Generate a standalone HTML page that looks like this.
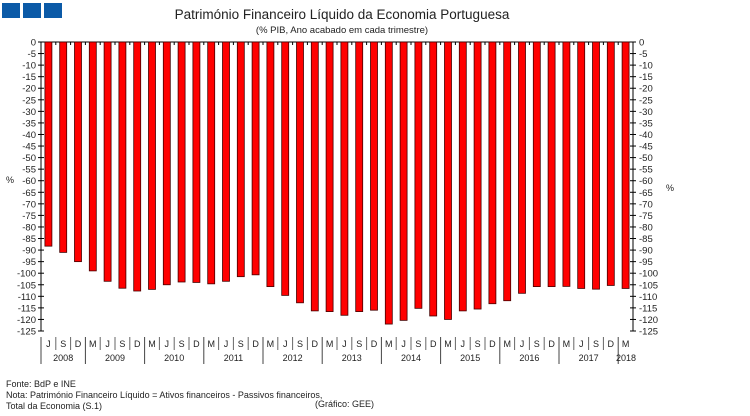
<!DOCTYPE html>
<html><head><meta charset="utf-8"><style>
body{margin:0;background:#fff;width:750px;height:416px;overflow:hidden;font-family:"Liberation Sans",sans-serif}
svg{display:block}
</style></head><body>
<svg width="750" height="416" xmlns="http://www.w3.org/2000/svg" font-family="Liberation Sans, sans-serif">
<rect x="2" y="3" width="18" height="15" fill="#0b5aa7"/>
<rect x="23" y="3" width="18" height="15" fill="#0b5aa7"/>
<rect x="44" y="3" width="18" height="15" fill="#0b5aa7"/>
<text x="342" y="19" font-size="13.5" text-anchor="middle" fill="#222">Património Financeiro Líquido da Economia Portuguesa</text>
<text x="342" y="33" font-size="9.5" text-anchor="middle" fill="#222">(% PIB, Ano acabado em cada trimestre)</text>
<g id="axes"></g>
<g id="bars"></g>
<g id="xlab"></g>
<text x="6" y="183" font-size="9" fill="#222">%</text>
<text x="666" y="191" font-size="9" fill="#222">%</text>
<text x="6" y="387" font-size="9" fill="#222">Fonte: BdP e INE</text>
<text x="6" y="398" font-size="9" fill="#222">Nota: Património Financeiro Líquido = Ativos financeiros - Passivos financeiros,</text>
<text x="6" y="409" font-size="9" fill="#222">Total da Economia (S.1)</text>
<text x="315" y="407" font-size="9" fill="#222">(Gráfico: GEE)</text>
</svg>
<script>
const quarters=["J","S","D","M","J","S","D","M","J","S","D","M","J","S","D","M","J","S","D","M","J","S","D","M","J","S","D","M","J","S","D","M","J","S","D","M","J","S","D","M"];
const years=["2008","2009","2010","2011","2012","2013","2014","2015","2016","2017","2018"];
const values=[-88.3,-91,-95,-99,-103.5,-106.5,-107.7,-107,-105,-103.8,-104,-104.6,-103.5,-101.5,-100.7,-105.8,-109.6,-112.8,-116.3,-116.6,-118.2,-116.6,-116,-122,-120.4,-115.2,-118.5,-120,-116.3,-115.5,-113.2,-111.9,-108.7,-105.8,-105.8,-105.7,-106.6,-106.9,-105.3,-106.6];
const ticks=[0,-5,-10,-15,-20,-25,-30,-35,-40,-45,-50,-55,-60,-65,-70,-75,-80,-85,-90,-95,-100,-105,-110,-115,-120,-125];
const NS="http://www.w3.org/2000/svg";
const X0=41,X1=633,Y0=42,Y1=331;
const step=(X1-X0)/values.length;
const y=v=>Y0+(0-v)/125*(Y1-Y0);
const xc=i=>X0+(i+0.5)*step;
function mk(t,a,p){const e=document.createElementNS(NS,t);for(const k in a)e.setAttribute(k,a[k]);p.appendChild(e);return e;}
const ax=document.getElementById('axes'),bg=document.getElementById('bars'),xl=document.getElementById('xlab');
let l=mk('line',{x1:X0,y1:Y0,x2:X0,y2:Y1,stroke:'#000'},ax);


l=mk('line',{x1:X1,y1:Y0,x2:X1,y2:Y1,stroke:'#000'},ax);


l=mk('line',{x1:X0,y1:Y0,x2:X1,y2:Y0,stroke:'#000'},ax);


ticks.forEach(t=>{const yy=y(t);
 mk('line',{x1:X0-3,y1:yy,x2:X0+3,y2:yy,stroke:'#000'},ax);
 mk('line',{x1:X1-3,y1:yy,x2:X1+3,y2:yy,stroke:'#000'},ax);
 let a=mk('text',{x:X0-5,y:yy+3.5,'font-size':9.5,'text-anchor':'end',fill:'#222'},ax);a.textContent=t;
 
 
 let b=mk('text',{x:X1+6,y:yy+3.5,'font-size':9.5,fill:'#222'},ax);b.textContent=t;
 
 
});
values.forEach((v,i)=>{
 const r=mk('rect',{x:xc(i)-3.5,y:Y0,width:7,height:y(v)-Y0,fill:'#ff0000',stroke:'#400',"stroke-width":0.8},bg);
 
 
 if(i>0) mk('line',{x1:X0+i*step,y1:Y0,x2:X0+i*step,y2:Y0+3,stroke:'#000'},ax);
 const q=mk('text',{x:xc(i),y:347,'font-size':9,'text-anchor':'middle',fill:'#222'},xl);q.textContent=quarters[i];
 
 
 if(i>0){const isYear=quarters[i]==="M";mk('line',{x1:X0+i*step,y1:337,x2:X0+i*step,y2:isYear?364:350,stroke:isYear?'#444':'#666'},xl);}
});
let starts=[];quarters.forEach((q,i)=>{if(i===0||q==="M")starts.push(i);});
mk('line',{x1:X0,y1:337,x2:X0,y2:364,stroke:'#444'},xl);
starts.forEach((s,k)=>{const e=k+1<starts.length?starts[k+1]:quarters.length;
 const cx=X0+(s+e)/2*step;
 const t=mk('text',{x:k===starts.length-1?X1-7:cx,y:361,'font-size':9,'text-anchor':'middle',fill:'#222'},xl);t.textContent=years[k];
 
 
});
</script>
</body></html>
